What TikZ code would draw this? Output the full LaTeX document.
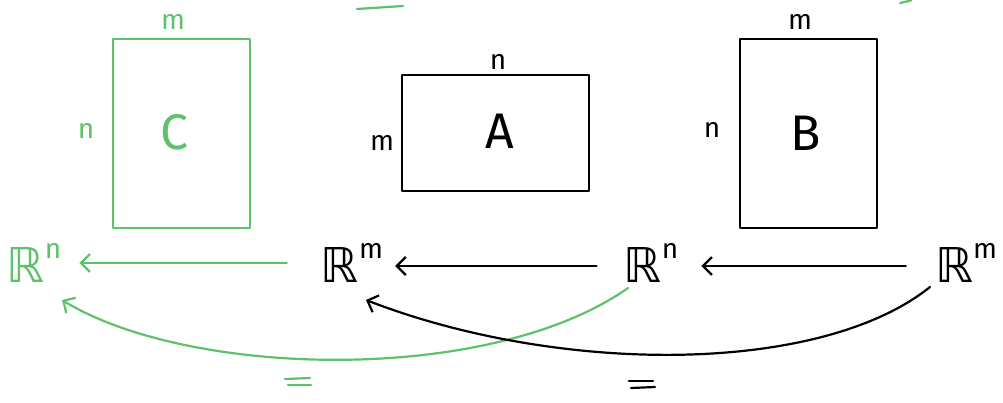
\documentclass[tikz,border=0pt]{standalone}
\usepackage{fontspec}
\setmainfont{Fira Sans}
\newfontfamily\dvfont{DejaVu Sans}
\usetikzlibrary{arrows.meta}
\definecolor{hgreen}{RGB}{93,194,106}
\tikzset{
  pen/.style={line width=2.2pt, line cap=round, line join=round},
  box/.style={pen, draw},
  big/.style={inner sep=0pt, font=\fontsize{50}{50}\selectfont},
  small/.style={inner sep=0pt, font=\fontsize{28}{28}\selectfont},
  space/.style={inner sep=0pt, font=\fontsize{48}{48}\selectfont},
  arr/.style={pen, -{Straight Barb[length=9pt,width=18pt,line width=2.2pt]}},
}
\newcommand{\Rsp}[1]{{\dvfont ℝ}\raisebox{0.5em}{\fontsize{28}{28}\selectfont #1}}
\begin{document}
\begin{tikzpicture}[x=1pt,y=-1pt]
\useasboundingbox (0,0) rectangle (1003,402);
% matrices
\node[box, draw=hgreen, minimum width=137pt, minimum height=189pt, anchor=north west] (Cbox) at (112,38) {};
\node[box, draw=black, minimum width=187pt, minimum height=116pt, anchor=north west] (Abox) at (401,74) {};
\node[box, draw=black, minimum width=137pt, minimum height=189pt, anchor=north west] (Bbox) at (739,38) {};
\node[big, text=hgreen] (Clab) at (174,132) {C};
\node[big] (Alab) at (500,131) {A};
\node[big] (Blab) at (806,133) {B};
\node[small, text=hgreen] (Cm) at (173,22) {m};
\node[small, text=hgreen] (Cn) at (86,131) {n};
\node[small] (An) at (498,62) {n};
\node[small] (Am) at (382,143) {m};
\node[small] (Bm) at (800,22) {m};
\node[small] (Bn) at (712,130) {n};
% spaces
\node[space, text=hgreen] (R1) at (34,263) {\Rsp{n}};
\node[space] (R2) at (352,263) {\Rsp{m}};
\node[space] (R3) at (651,263) {\Rsp{n}};
\node[space] (R4) at (966,263) {\Rsp{m}};
% horizontal arrows
\draw[arr, hgreen] ([xshift=-34pt,yshift=0pt]R2.west) -- ([xshift=18pt,yshift=0pt]R1.east);
\draw[arr] ([xshift=-27pt,yshift=-3pt]R3.west) -- ([xshift=12pt,yshift=-3pt]R2.east);
\draw[arr] ([xshift=-29pt,yshift=-3pt]R4.west) -- ([xshift=23pt,yshift=-3pt]R3.east);
% curved arrows
\coordinate (g0) at (628,288);
\coordinate (g1) at (62,300);
\coordinate (b0) at (930,287);
\coordinate (b1) at (366,300);
\draw[arr, hgreen] (g0) .. controls (490,385) and (190,378) .. (g1);
\draw[arr] (b0) .. controls (820,375) and (560,375) .. (b1);
% equal signs
\draw[pen, hgreen] (285,379) -- (310,378);
\draw[pen, hgreen] (288,385) -- (311,385);
\draw[pen] (629,381) -- (653,381);
\draw[pen] (631,388) -- (655,387);
% stray strokes at top
\draw[pen, hgreen] (357,9) -- (403,6);
\draw[pen, hgreen] (900,3) -- (911,0.5);
\end{tikzpicture}
\end{document}
